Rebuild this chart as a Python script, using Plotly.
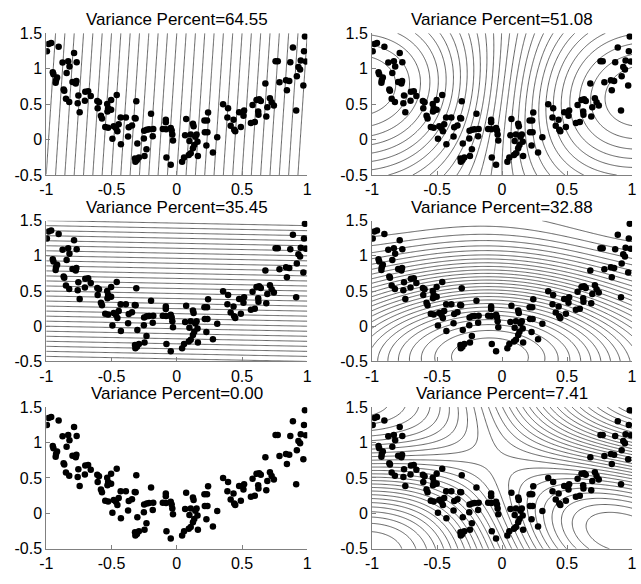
import numpy as np
import plotly.graph_objects as go
from plotly.subplots import make_subplots

# ---- data ----
pts_x = [-0.995,-0.982,-0.962,-0.905,-0.95,-0.945,-0.925,-0.917,-0.928,-0.875,-0.867,-0.862,-0.849,-0.832,-0.822,-0.844,-0.824,-0.787,-0.767,-0.799,-0.774,-0.769,-0.754,-0.759,-0.744,-0.701,-0.679,-0.704,-0.659,-0.609,-0.596,-0.606,-0.581,-0.573,-0.548,-0.526,-0.533,-0.526,-0.531,-0.503,-0.503,-0.46,-0.493,-0.483,-0.466,-0.455,-0.445,-0.43,-0.428,-0.39,-0.373,-0.368,-0.343,-0.322,-0.315,-0.31,-0.32,-0.317,-0.305,-0.302,-0.29,-0.252,-0.247,-0.232,-0.25,-0.23,-0.212,-0.197,-0.184,-0.18,
-0.084,-0.084,-0.082,-0.079,-0.107,-0.046,-0.046,-0.039,-0.034,-0.029,0.041,0.056,0.072,0.064,0.092,0.097,0.107,0.107,0.124,0.129,0.124,0.134,0.142,0.152,0.159,0.162,0.212,0.232,0.215,0.235,0.227,0.24,0.277,0.31,
0.355,0.393,0.388,0.413,0.435,0.44,0.448,0.478,0.491,0.511,0.516,0.568,0.598,0.581,0.611,0.624,0.626,0.631,0.644,0.679,0.686,0.694,0.714,0.727,0.744,0.757,0.774,0.787,0.837,0.844,0.862,0.87,0.89,0.915,0.92,0.932,0.945,0.95,0.97,0.975,0.982,0.99]
pts_y = [1.245,1.347,1.361,1.31,0.95,0.92,0.836,0.874,0.8,1.087,0.706,0.69,0.577,1.106,1.031,0.939,0.53,1.22,1.092,0.813,0.79,0.827,0.623,0.512,0.386,0.674,0.683,0.549,0.614,0.544,0.525,0.442,0.335,0.298,0.177,0.168,0.502,0.442,0.396,0.558,0.419,0.628,0.01,0.187,0.164,0.117,0.215,0.312,-0.068,0.312,0.042,0.173,0.2,0.303,0.298,0.539,-0.268,-0.314,-0.29,-0.055,-0.254,0.015,-0.231,-0.138,0.125,0.14,0.145,0.363,0.048,0.15,
0.28,0.243,0.145,-0.254,0.15,-0.356,0.164,0.126,0.07,-0.013,-0.314,-0.254,0.289,0.061,-0.217,-0.022,0.07,-0.194,0.224,0.187,-0.124,-0.078,0.038,0.07,-0.032,-0.231,0.27,0.27,0.103,0.103,-0.083,0.382,-0.184,0.034,
0.498,0.442,0.312,0.196,0.28,0.14,0.117,0.386,0.177,0.335,0.41,0.233,0.247,0.488,0.558,0.396,0.349,0.567,0.544,0.79,0.326,0.456,0.581,0.526,0.479,1.106,1.106,0.808,0.836,0.697,0.827,1.092,1.3,0.41,0.892,1.022,0.99,1.115,0.762,1.245,1.454,1.101]

variance_percent = [64.55, 51.08, 35.45, 32.88, 0.00, 7.41]   # panel order: row by row
panel_kernel = ["linear", "rbf", "linear", "rbf", "linear", "rbf"]
panel_component = [0, 0, 1, 1, 2, 2]
x_ticks = [-1, -0.5, 0, 0.5, 1]
x_ticklabels = ["-1", "-0.5", "0", "0.5", "1"]
y_ticks = [-0.5, 0, 0.5, 1, 1.5]
y_ticklabels = ["-0.5", "0", "0.5", "1", "1.5"]

# ---- kernel PCA computed from the points ----
X = np.column_stack([pts_x, pts_y])
kernels = {
    "linear": lambda A, B: A @ B.T,
    "rbf": lambda A, B: np.exp(-((A[:, None, :] - B[None, :, :]) ** 2).sum(-1) / 2.0),
}
gx = np.linspace(-1, 1, 121)
gy = np.linspace(-0.5, 1.5, 121)
GX, GY = np.meshgrid(gx, gy)
G = np.column_stack([GX.ravel(), GY.ravel()])
n = len(X)
fields = {}
for nm, kf in kernels.items():
    K = kf(X, X)
    one = np.ones((n, n)) / n
    Kc = K - one @ K - K @ one + one @ K @ one
    lam, V = np.linalg.eigh(Kc)
    idx = np.argsort(lam)[::-1]
    V = V[:, idx]
    Kt = kf(G, X)
    Ktc = Kt - Kt.mean(1, keepdims=True) - K.mean(0)[None, :] + K.mean()
    fields[nm] = [(Ktc @ V[:, r]).reshape(GX.shape) for r in range(3)]

# ---- layout ----
W, H = 641, 584
col_px = [(40, 306), (372, 637)]
row_px = [(26, 172), (219, 364), (411, 557)]
NLEV = 28
FONT = "Liberation Sans, Arial, sans-serif"

fig = make_subplots(rows=3, cols=2)
ann = []
for p in range(6):
    r, c = divmod(p, 2)
    z = fields[panel_kernel[p]][panel_component[p]]
    if variance_percent[p] > 0.005:
        zmin, zmax = float(z.min()), float(z.max())
        step = (zmax - zmin) / (NLEV + 1)
        fig.add_trace(go.Contour(x=gx, y=gy, z=z, autocontour=False,
                                 contours=dict(start=zmin + step, end=zmax - step * 0.5, size=step,
                                               coloring="none"),
                                 line=dict(color="#222222", width=0.7, smoothing=0.8),
                                 showscale=False, hoverinfo="skip"), r + 1, c + 1)
    fig.add_trace(go.Scatter(x=pts_x, y=pts_y, mode="markers",
                             marker=dict(size=6.5, color="black", line=dict(width=0)),
                             hoverinfo="skip"), r + 1, c + 1)
    x0, x1 = col_px[c]
    y0, y1 = row_px[r]
    xd = [x0 / W, x1 / W]
    yd = [1 - y1 / H, 1 - y0 / H]
    k = p + 1
    fig.layout[f"xaxis{'' if k == 1 else k}"].domain = xd
    fig.layout[f"yaxis{'' if k == 1 else k}"].domain = yd
    ann.append(dict(text=f"Variance Percent={variance_percent[p]:.2f}", x=(xd[0] + xd[1]) / 2,
                    y=yd[1], xref="paper", yref="paper", xanchor="center", yanchor="bottom",
                    yshift=2, showarrow=False, font=dict(family=FONT, size=17, color="black")))

fig.update_xaxes(range=[-1, 1], tickvals=x_ticks, ticktext=x_ticklabels, showline=True,
                 linecolor="#808080", linewidth=1, ticks="inside", ticklen=4, tickcolor="#808080",
                 showgrid=False, zeroline=False, tickfont=dict(family=FONT, size=16, color="black"))
fig.update_yaxes(range=[-0.5, 1.5], tickvals=y_ticks, ticktext=y_ticklabels, showline=True,
                 linecolor="#808080", linewidth=1, ticks="inside", ticklen=4, tickcolor="#808080",
                 showgrid=False, zeroline=False, tickfont=dict(family=FONT, size=16, color="black"))
fig.update_layout(width=W, height=H, showlegend=False, margin=dict(l=0, r=0, t=0, b=0),
                  plot_bgcolor="white", paper_bgcolor="white", annotations=ann)
fig.write_html("out.html")
